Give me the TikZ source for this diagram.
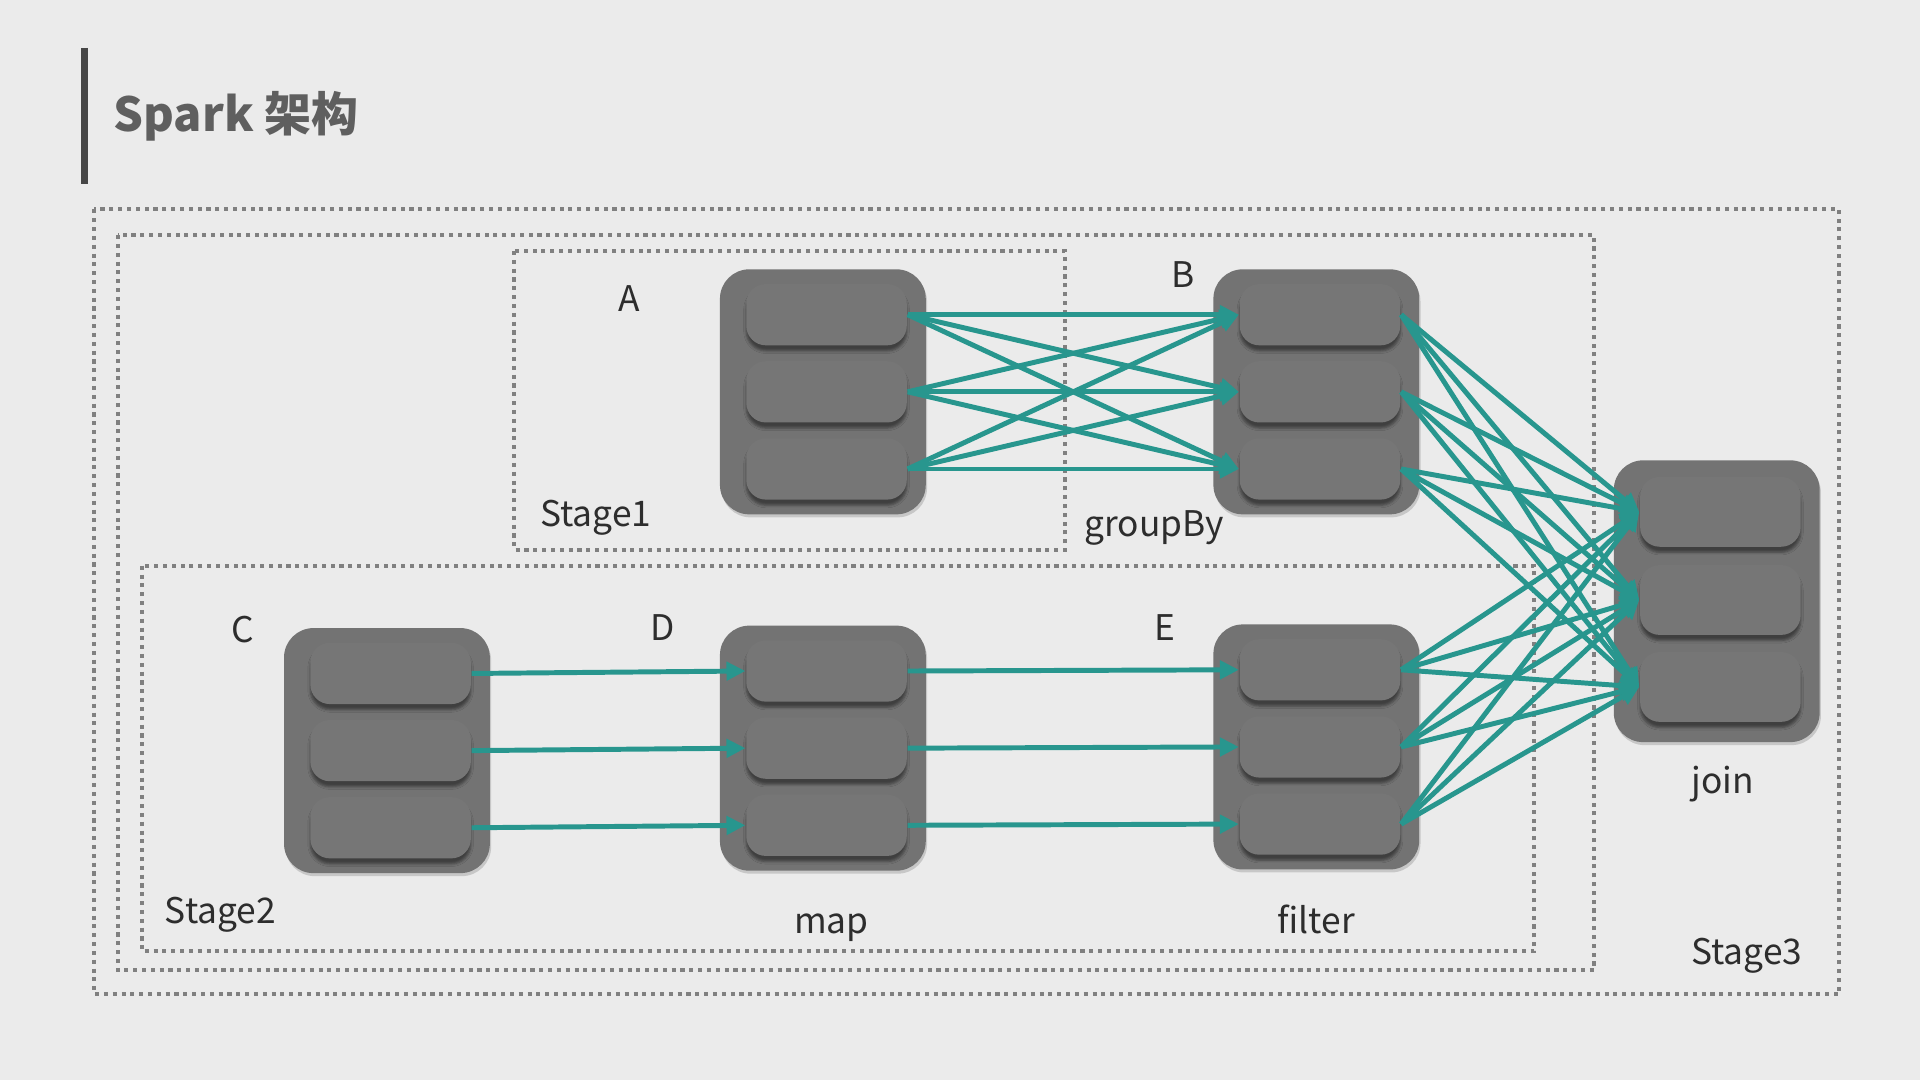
\documentclass[tikz,border=0pt]{standalone}
\usepackage{fontspec}
\setmainfont{Noto Sans CJK SC}
\usetikzlibrary{arrows.meta,shadows,shadows.blur}

\definecolor{paper}{RGB}{235,235,235}
\definecolor{flow}{RGB}{40,150,142}
\definecolor{partfill}{RGB}{115,115,115}
\definecolor{slotfill}{RGB}{118,118,118}
\definecolor{framegray}{RGB}{128,128,128}
\definecolor{labelink}{RGB}{45,45,45}
\definecolor{titleink}{RGB}{95,95,95}
\definecolor{titlebar}{RGB}{70,70,70}

\tikzset{
  rdd/.style={rectangle, rounded corners=0.24cm, fill=partfill, inner sep=0pt,
    minimum width=1.68cm, minimum height=2cm,
    drop shadow={shadow xshift=0.3pt, shadow yshift=-0.7pt, opacity=0.15, fill=black}},
  slot/.style={rectangle, rounded corners=0.16cm, fill=slotfill, inner sep=0pt,
    minimum width=1.31cm, minimum height=0.5cm,
    blur shadow={shadow xshift=0pt, shadow yshift=-1.3pt, shadow blur radius=0.6pt, shadow opacity=45}},
  stage/.style={draw=framegray, line width=0.95pt, dash pattern=on 0.95pt off 1.1pt},
  dep/.style={draw=flow, line width=1.15pt, -{Triangle[length=4.4pt,width=4.2pt]}},
  lbl/.style={text=labelink, font=\fontsize{8.2pt}{10pt}\selectfont, inner sep=0pt, anchor=base}
}

\begin{document}
\begin{tikzpicture}[x=0.01cm,y=-0.01cm]
\fill[paper] (0,0) rectangle (1568,882);
\useasboundingbox (0,0) rectangle (1568,882);

% title
\draw[titlebar, line width=1.4pt] (69,39) -- (69,150);
\node[anchor=base west, inner sep=0pt, text=titleink, font=\fontsize{10.9pt}{13pt}\selectfont\bfseries] (title) at (92,107.5) {Spark 架构};

% stages
\draw[stage] (77,171) rectangle (1502,812);
\draw[stage] (96,192) rectangle (1302,792);
\draw[stage] (420,205) rectangle (870,449);
\draw[stage] (116,462) rectangle (1253,777);

% rdds and their partitions
\foreach \n/\x/\y in {A/672/320, B/1075/320, C/316/613, D/672/611, E/1075/610} {
  \node[rdd] (\n) at (\x,\y) {};
  \foreach \i/\dy in {1/-63,2/0,3/63}
    \node[slot] (\n\i) at ({\x+3},{\y+\dy}) {};
}
\node[rdd, minimum height=2.3cm] (J) at (1402,491) {};
\foreach \i/\y in {1/418,2/490,3/561}
  \node[slot, minimum height=0.57cm] (J\i) at (1405,\y) {};

% dependencies
\foreach \i in {1,2,3} {
  \draw[dep] (C\i.east) -- (D\i.west);
  \draw[dep] (D\i.east) -- (E\i.west);
  \foreach \j in {1,2,3} {
    \draw[dep] (A\i.east) -- (B\j.west);
    \draw[dep] (B\i.east) -- (J\j.west);
    \draw[dep] (E\i.east) -- (J\j.west);
  }
}

% labels
\node[lbl] (lA) at (514,254) {A};
\node[lbl] (lB) at (966,235) {B};
\node[lbl] (lC) at (198,525) {C};
\node[lbl] (lD) at (541,523) {D};
\node[lbl] (lE) at (951,523) {E};
\node[lbl] (groupby) at (942.5,438.5) {groupBy};
\node[lbl] (map) at (679,762) {map};
\node[lbl] (filter) at (1075,762) {filter};
\node[lbl] (join) at (1407,648) {join};
\node[lbl] (stage1) at (486.5,430) {Stage1};
\node[lbl] (stage2) at (180,754) {Stage2};
\node[lbl] (stage3) at (1426.5,788) {Stage3};
\end{tikzpicture}
\end{document}
